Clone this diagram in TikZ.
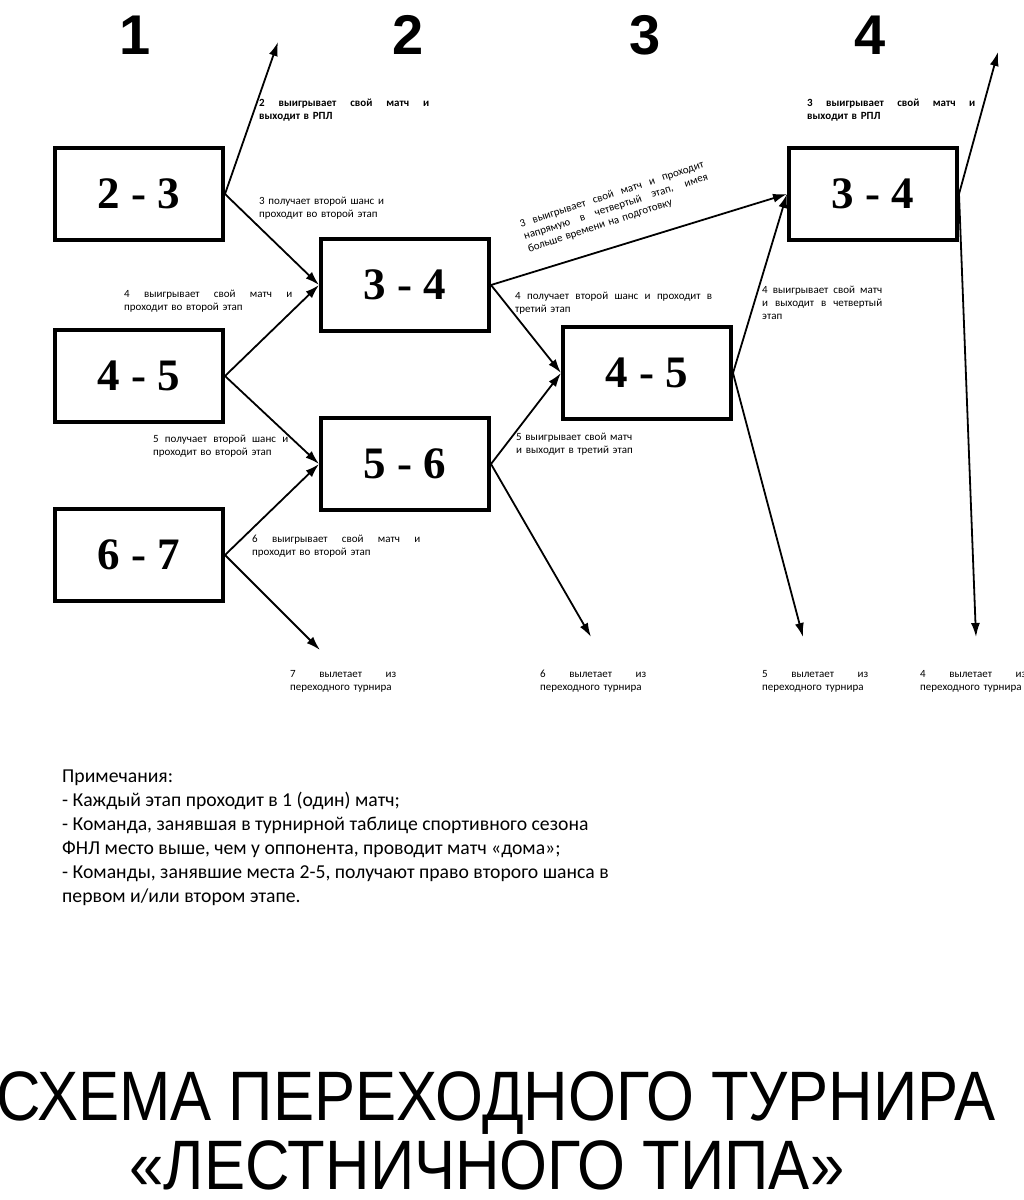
\documentclass[tikz,border=0pt]{standalone}
\usepackage{fontspec}
\setmainfont{Carlito}
\newfontfamily\headfont{Liberation Sans}
\newfontfamily\pairfont{Liberation Serif}
\usepackage{graphicx}
\usetikzlibrary{arrows.meta}
% one line of a note, its word spaces stretched to the given width
\newcommand{\spread}[2]{\makebox[#1][s]{\spaceskip=.3333em plus 1fil\relax #2}}

\begin{document}
\begin{tikzpicture}[x=1pt, y=-1pt]
  % --- the constants everything else is derived from -----------------------
  \def\bw{168}    % match box width
  \def\bh{92}     % match box height
  \def\nw{106pt}  % width of the "вылетает" notes

  \tikzset{
    match/.style={draw, line width=4pt, minimum width=\bw pt, minimum height=\bh pt,
      inner sep=0pt, font=\pairfont\bfseries\fontsize{45}{45}\selectfont},
    link/.style={line width=1.8pt, -{Latex[length=14pt, width=9pt]}},
    lbl/.style={anchor=north west, inner sep=0pt, align=left,
      font=\fontsize{11}{13}\selectfont},
    strong/.style={lbl, font=\bfseries\fontsize{11}{13}\selectfont},
    stagenum/.style={font=\headfont\bfseries\fontsize{56}{56}\selectfont},
    remark/.style={anchor=north west, inner sep=0pt, align=left, text width=700pt,
      font=\fontsize{19.7}{24}\selectfont},
    headline/.style={anchor=base, inner sep=0pt,
      font=\headfont\fontsize{70}{70}\selectfont}}

  \useasboundingbox (0,0) rectangle (1024,1200);

  % ---- 1. stage numbers ---------------------------------------------------
  \node[stagenum] (num1) at (135,35) {1};
  \node[stagenum] (num2) at (408,35) {2};
  \node[stagenum] (num3) at (645,35) {3};
  \node[stagenum] (num4) at (870,35) {4};

  % ---- 2. the matches, one box per pair -----------------------------------
  \node[match] (b23) at (139,194) {2 - 3};
  \node[match] (b45) at (139,376) {4 - 5};
  \node[match] (b67) at (139,555) {6 - 7};
  \node[match] (c34) at (405,285) {3 - 4};
  \node[match] (c56) at (405,464) {5 - 6};
  \node[match] (d45) at (647,373) {4 - 5};
  \node[match] (e34) at (873,194) {3 - 4};

  % free ends: promotion upwards, elimination downwards
  \coordinate (rpl2) at (278,42);
  \coordinate (rpl3) at (998,52);
  \coordinate (out7) at (320,650);
  \coordinate (out6) at (591,637);
  \coordinate (out5) at (803,637);
  \coordinate (out4) at (976,637);

  % ---- 3. connectors ------------------------------------------------------
  \draw[link] (b23.east) -- (rpl2);
  \draw[link] (b23.east) -- (c34.west);
  \draw[link] (b45.east) -- (c34.west);
  \draw[link] (b45.east) -- (c56.west);
  \draw[link] (b67.east) -- (c56.west);
  \draw[link] (b67.east) -- (out7);
  \draw[link] (c34.east) -- (e34.west);
  \draw[link] (c34.east) -- (d45.west);
  \draw[link] (c56.east) -- (d45.west);
  \draw[link] (c56.east) -- (out6);
  \draw[link] (d45.east) -- (e34.west);
  \draw[link] (d45.east) -- (out5);
  \draw[link] (e34.east) -- (rpl3);
  \draw[link] (e34.east) -- (out4);

  % ---- 4. notes on the connectors -----------------------------------------
  \node[strong, text width=170pt] (t2rpl) at (259,99)
    {\spread{170pt}{2 выигрывает свой матч и}\\выходит в РПЛ};
  \node[lbl, text width=135pt] (t3two) at (259,197)
    {3 получает второй шанс и\\проходит во второй этап};
  \node[lbl, text width=168pt] (t4win) at (124,290)
    {\spread{168pt}{4 выигрывает свой матч и}\\проходит во второй этап};
  \node[lbl, text width=135pt] (t5two) at (153,435)
    {\spread{135pt}{5 получает второй шанс и}\\проходит во второй этап};
  \node[lbl, text width=168pt] (t6win) at (252,535)
    {\spread{168pt}{6 выигрывает свой матч и}\\проходит во второй этап};
  \node[lbl, text width=193pt, anchor=center, rotate=18.2] (t3direct) at (616,207)
    {\spread{193pt}{3 выигрывает свой матч и проходит}\\
     \spread{193pt}{напрямую в четвертый этап, имея}\\
     больше времени на подготовку};
  \node[lbl, text width=197pt] (t4third) at (515,292)
    {\spread{197pt}{4 получает второй шанс и проходит в}\\третий этап};
  \node[lbl, text width=125pt] (t5third) at (516,433)
    {5 выигрывает свой матч\\и выходит в третий этап};
  \node[strong, text width=168pt] (t3rpl) at (807,99)
    {\spread{168pt}{3 выигрывает свой матч и}\\выходит в РПЛ};
  \node[lbl, text width=120pt] (t4fourth) at (762,286)
    {\spread{120pt}{4 выигрывает свой матч}\\\spread{120pt}{и выходит в четвертый}\\этап};

  % elimination notes, one under each downward arrow
  \foreach \p/\x in {7/290, 6/540, 5/762, 4/920}{
    \node[lbl, text width=\nw] (drop\p) at (\x,670)
      {\spread{\nw}{\p\ вылетает из}\\переходного турнира};}

  % ---- 5. remarks and title -----------------------------------------------
  \node[remark] (remarks) at (62,770)
    {\spaceskip=0pt\xspaceskip=0pt
     Примечания:\\
     - Каждый этап проходит в 1 (один) матч;\\
     - Команда, занявшая в турнирной таблице спортивного сезона\\
     ФНЛ место выше, чем у оппонента, проводит матч «дома»;\\
     - Команды, занявшие места 2-5, получают право второго шанса в\\
     первом и/или втором этапе.};
  \node[headline] (head1) at (496,1120)
    {\scalebox{0.88}[1]{СХЕМА ПЕРЕХОДНОГО ТУРНИРА}};
  \node[headline] (head2) at (487,1189)
    {\scalebox{0.88}[1]{«ЛЕСТНИЧНОГО ТИПА»}};
\end{tikzpicture}
\end{document}
